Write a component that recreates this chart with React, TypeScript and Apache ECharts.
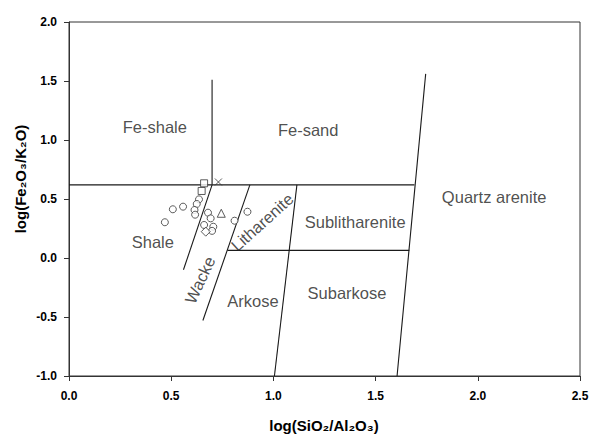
import { useEffect, useRef } from "react";
import * as echarts from "echarts";

// Classification boundaries, [log(SiO2/Al2O3), log(Fe2O3/K2O)]
const ironBoundary = [[0, 0.62], [1.69, 0.62]];
const feShaleFeSand = [[0.70, 0.62], [0.70, 1.51]];
const shaleWacke = [[0.56, -0.10], [0.70, 0.62]];
const wackeLitharenite = [[0.655, -0.53], [0.885, 0.62]];
const sublithSubarkose = [[0.775, 0.065], [1.665, 0.065]];
const arkoseSubarkose = [[1.005, -1.0], [1.115, 0.62]];
const quartzArenite = [[1.605, -1.0], [1.745, 1.56]];

// Sample points
const circleSamples = [
  [0.469, 0.303], [0.508, 0.413], [0.558, 0.435], [0.636, 0.497],
  [0.625, 0.458], [0.614, 0.407], [0.617, 0.367], [0.680, 0.384],
  [0.693, 0.336], [0.706, 0.265], [0.661, 0.28], [0.70, 0.23],
  [0.81, 0.316], [0.873, 0.392],
];
const squareSamples = [[0.661, 0.633], [0.649, 0.568]];
const triangleSamples = [[0.745, 0.379]];
const diamondSamples = [[0.669, 0.223]];
const crossSamples = [[0.731, 0.644]];

// Field names: [x, y, text, rotation in degrees]
const fieldNames: [number, number, string, number][] = [
  [0.42, 1.11, "Fe-shale", 0],
  [1.17, 1.085, "Fe-sand", 0],
  [2.08, 0.517, "Quartz arenite", 0],
  [0.41, 0.136, "Shale", 0],
  [1.40, 0.305, "Sublitharenite", 0],
  [1.36, -0.297, "Subarkose", 0],
  [0.90, -0.364, "Arkose", 0],
  [0.64, -0.186, "Wacke", 65],
  [0.945, 0.305, "Litharenite", 42],
];

const xTitle = "log(SiO\u2082/Al\u2082O\u2083)";
const yTitle = "log(Fe\u2082O\u2083/K\u2082O)";

const FONT = "'Liberation Sans', Arial, sans-serif";
const INK = "#1a1a1a";

function boundary(data: number[][]) {
  return {
    type: "line",
    data,
    symbol: "none",
    silent: true,
    z: 2,
    lineStyle: { color: INK, width: 1.1 },
  };
}

function samples(data: number[][], symbol: string, size: number) {
  return {
    type: "scatter",
    data,
    symbol,
    symbolSize: size,
    z: 4,
    itemStyle: { color: "#ffffff", borderColor: "#333333", borderWidth: 1 },
  };
}

const axisLabelStyle = {
  color: "#000",
  fontSize: 12,
  fontWeight: "bold",
  fontFamily: FONT,
  formatter: (v: number) => v.toFixed(1),
};

export default function App() {
  const ref = useRef<HTMLDivElement>(null);

  useEffect(() => {
    if (!ref.current) return;
    const chart = echarts.init(ref.current, null, { renderer: "svg" });

    const titleStyle = {
      fontSize: 15,
      fontWeight: "bold",
      fontFamily: FONT,
      fill: "#000",
      textAlign: "center",
      textVerticalAlign: "middle",
    };

    chart.setOption({
      animation: false,
      backgroundColor: "#ffffff",
      grid: {
        left: 69,
        right: 12,
        top: 22,
        bottom: 65,
        show: true,
        borderColor: "#333333",
        borderWidth: 1,
      },
      xAxis: {
        type: "value",
        min: 0,
        max: 2.5,
        interval: 0.5,
        axisLine: { show: true, onZero: false, lineStyle: { color: "#333333" } },
        axisTick: { show: true, length: 5, lineStyle: { color: "#333333" } },
        splitLine: { show: false },
        axisLabel: { ...axisLabelStyle, margin: 14 },
      },
      yAxis: {
        type: "value",
        min: -1,
        max: 2,
        interval: 0.5,
        axisLine: { show: true, onZero: false, lineStyle: { color: "#333333" } },
        axisTick: { show: true, length: 5, lineStyle: { color: "#333333" } },
        splitLine: { show: false },
        axisLabel: { ...axisLabelStyle, margin: 12 },
      },
      graphic: [
        {
          type: "text",
          x: 324,
          y: 425,
          style: { ...titleStyle, text: xTitle },
        },
        {
          type: "text",
          x: 20,
          y: 179,
          rotation: Math.PI / 2,
          style: { ...titleStyle, text: yTitle },
        },
      ],
      series: [
        boundary(ironBoundary),
        boundary(feShaleFeSand),
        boundary(shaleWacke),
        boundary(wackeLitharenite),
        boundary(sublithSubarkose),
        boundary(arkoseSubarkose),
        boundary(quartzArenite),
        {
          type: "scatter",
          silent: true,
          symbolSize: 0,
          z: 3,
          data: fieldNames.map(([x, y, text, rot]) => ({
            value: [x, y],
            label: { formatter: text, rotate: rot },
          })),
          label: {
            show: true,
            position: "inside",
            color: "#222",
            fontSize: 16.5,
            fontFamily: FONT,
          },
        },
        samples(circleSamples, "circle", 7),
        samples(squareSamples, "rect", 7),
        samples(triangleSamples, "triangle", 8),
        samples(diamondSamples, "diamond", 9),
        {
          type: "scatter",
          data: crossSamples,
          symbol: "path://M0,0L10,10M10,0L0,10",
          symbolSize: 7,
          z: 4,
          itemStyle: { color: "none", borderColor: "#333333", borderWidth: 1 },
        },
      ],
    });

    return () => chart.dispose();
  }, []);

  return (
    <div
      ref={ref}
      style={{ position: "fixed", left: 0, top: 0, width: 592, height: 441, background: "#fff" }}
    />
  );
}
